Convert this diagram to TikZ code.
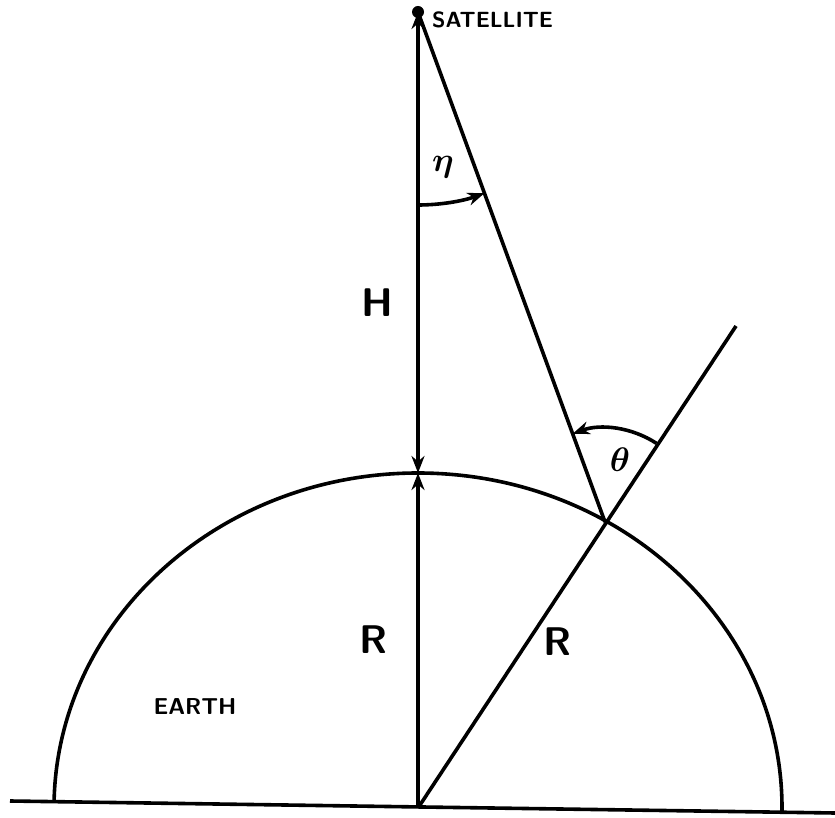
\RequirePackage{fix-cm}
\documentclass[tikz,border=0pt]{standalone}
\usepackage{bm}
\usetikzlibrary{arrows.meta}
\begin{document}
\begin{tikzpicture}[x=1pt,y=1pt,>={Stealth[length=17pt,width=13pt]}, line width=3.6pt,
    every node/.style={font=\sffamily\bfseries},
    ang/.style={font=\fontsize{34}{36}\selectfont},
    big/.style={font=\sffamily\bfseries\fontsize{40}{42}\selectfont}]
    \useasboundingbox (0,0) rectangle (835,817);
    \coordinate (o) at (418,9);
    \coordinate (t) at (418,344);
    \coordinate (s) at (418,805);
    \coordinate (p) at (605,295);
    \coordinate (e) at (736,491);
    \coordinate (bl) at (10,16);
    \coordinate (br) at (835,4);
    % ground and earth
    \draw (bl)--(br);
    \draw (o) ++(179:364 and 335) arc[start angle=179,end angle=-1,x radius=364,y radius=335];
    % satellite
    \fill (s) circle (6);
    \node[anchor=west,font=\sffamily\bfseries\fontsize{22}{24}\selectfont] (sat) at (427,797) {SATELLITE};
    % heights
    \draw[<->] (t)--(s);
    \draw[->] (o)--(t);
    \draw (s)--(p);
    \draw (o)--(e);
    % angles
    \draw[->] (418,612) arc[start angle=-90,end angle=-69.86,radius=193];
    \draw[->] (p) ++(56.8:94) arc[start angle=56.8,end angle=110.14,radius=94];
    \node[ang] (eta) at (443,650) {$\bm{\eta}$};
    \node[ang] (theta) at (620,357) {$\bm{\theta}$};
    % labels
    \node[big] (h) at (377,514) {H};
    \node[big] (r1) at (374,177) {R};
    \node[big] (r2) at (558,175) {R};
    \node[font=\sffamily\bfseries\fontsize{23}{25}\selectfont] (earth) at (195,110) {EARTH};
\end{tikzpicture}
\end{document}
